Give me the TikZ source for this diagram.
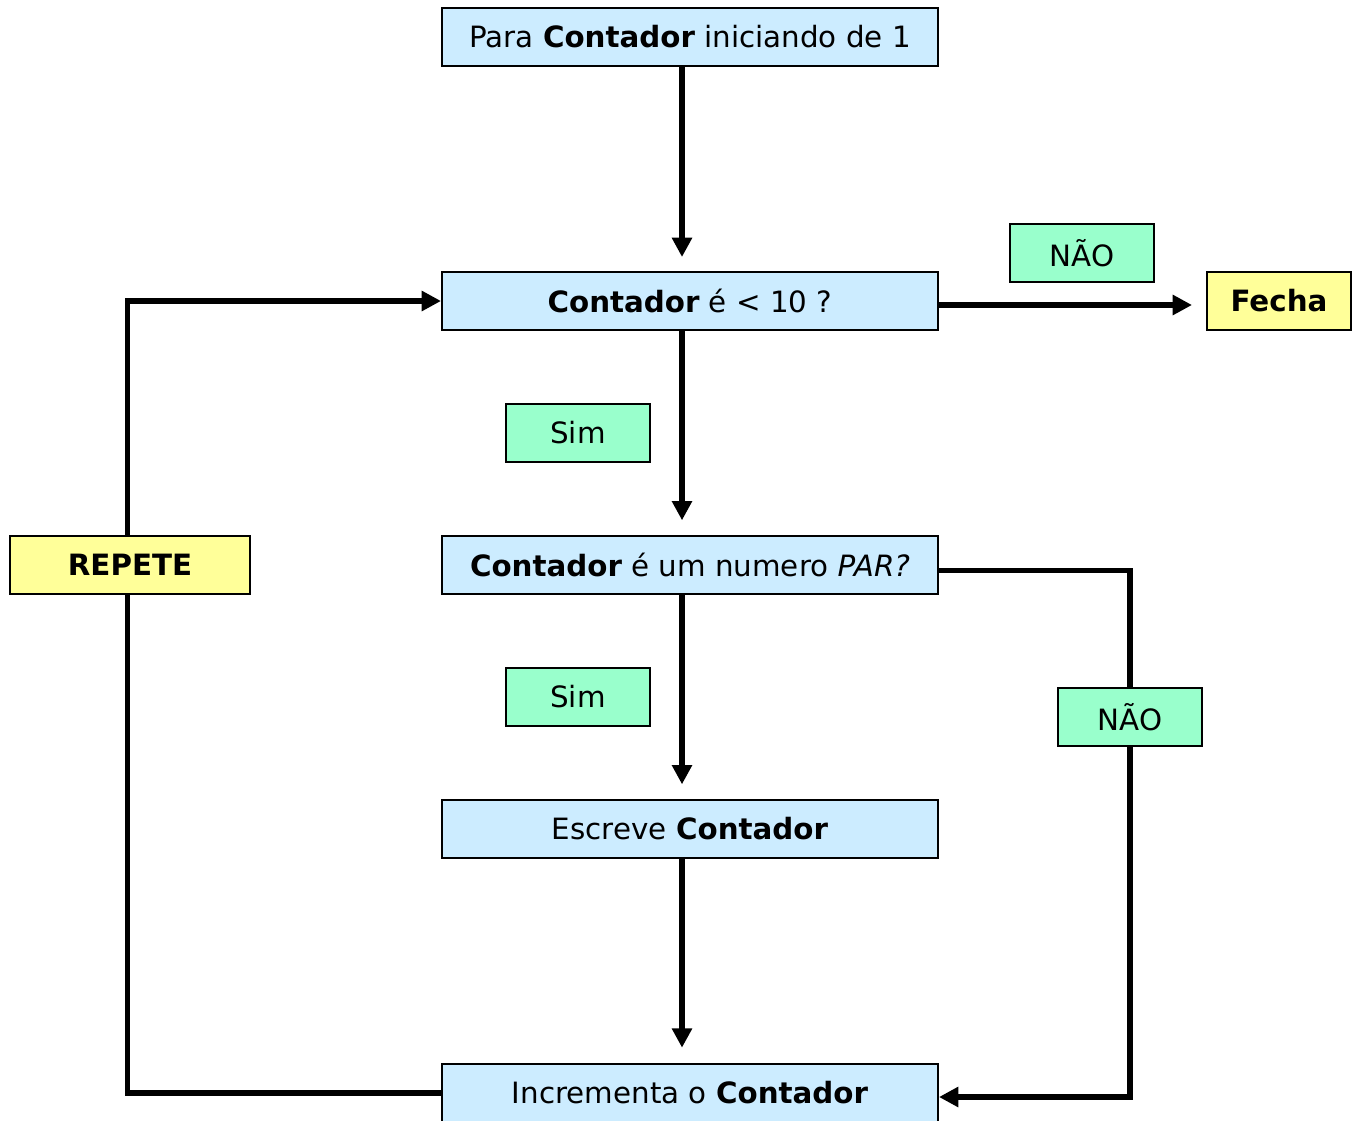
\documentclass[tikz,border=0pt]{standalone}
\usepackage{fontspec}
\setmainfont{DejaVu Sans}
\usepackage{xcolor}
\usetikzlibrary{positioning,arrows.meta,backgrounds}
\definecolor{azul}{RGB}{204,236,255}
\definecolor{verde}{RGB}{153,255,204}
\definecolor{amarelo}{RGB}{255,255,153}

\begin{document}
\begin{tikzpicture}[x=0.75pt,y=-0.75pt,
    caixa/.style={draw,line width=1.5pt,fill=azul,minimum width=372pt,minimum height=43.5pt,inner sep=0pt},
    rotulo/.style={draw,line width=1.5pt,fill=verde,minimum width=108pt,minimum height=43.5pt,inner sep=0pt},
    aviso/.style={draw,line width=1.5pt,fill=amarelo,minimum height=43.5pt,inner sep=0pt,font=\fontsize{22}{26}\selectfont\bfseries},
    seta/.style={line width=3.9pt,-{Triangle[length=14.5pt,width=14.5pt]}},
    font=\fontsize{22}{26}\selectfont]
  \useasboundingbox (0,0) rectangle (1355,1120);

  % caixas do fluxo
  \node[caixa] (inicio) at (690,37) {Para \textbf{Contador} iniciando de 1};
  \node[caixa] (teste) at (690,301) {\textbf{Contador} é < 10 ?};
  \node[caixa] (par) at (690,565) {\textbf{Contador} é um numero \textit{PAR?}};
  \node[caixa] (escreve) at (690,829) {Escreve \textbf{Contador}};
  \node[caixa] (incrementa) at (690,1093) {Incrementa o \textbf{Contador}};

  \node[aviso,minimum width=108pt] (fecha) at (1279,301) {Fecha};
  \node[aviso,minimum width=180pt] (repete) at (130,565) {REPETE};

  % rotulos
  \node[rotulo] (nao1) at (1082,253) {NÃO};
  \node[rotulo] (sim1) at (578,433) {Sim};
  \node[rotulo] (sim2) at (578,697) {Sim};
  \node[rotulo] (nao2) at (1130,717) {NÃO};

  \begin{scope}[on background layer]
    \draw[seta,shorten >=10.5pt] ([xshift=-6pt]inicio.south) -- ([xshift=-6pt]teste.north);
    \draw[seta,shorten >=11pt] ([xshift=-6pt]teste.south) -- ([xshift=-6pt]par.north);
    \draw[seta,shorten >=11pt] ([xshift=-6pt]par.south) -- ([xshift=-6pt]escreve.north);
    \draw[seta,shorten >=11.5pt] ([xshift=-6pt]escreve.south) -- ([xshift=-6pt]incrementa.north);
    \draw[seta,shorten >=10.5pt] ([yshift=-3pt]teste.east) -- ([yshift=-3pt]fecha.west); % NAO
    \draw[seta] (incrementa.west) -| ([xshift=-2pt]repete.center) |- (teste.west); % laco
    \draw[seta] ([yshift=-4pt]par.east) -| (nao2.center) |- ([yshift=-3pt]incrementa.east);
  \end{scope}
\end{tikzpicture}
\end{document}
